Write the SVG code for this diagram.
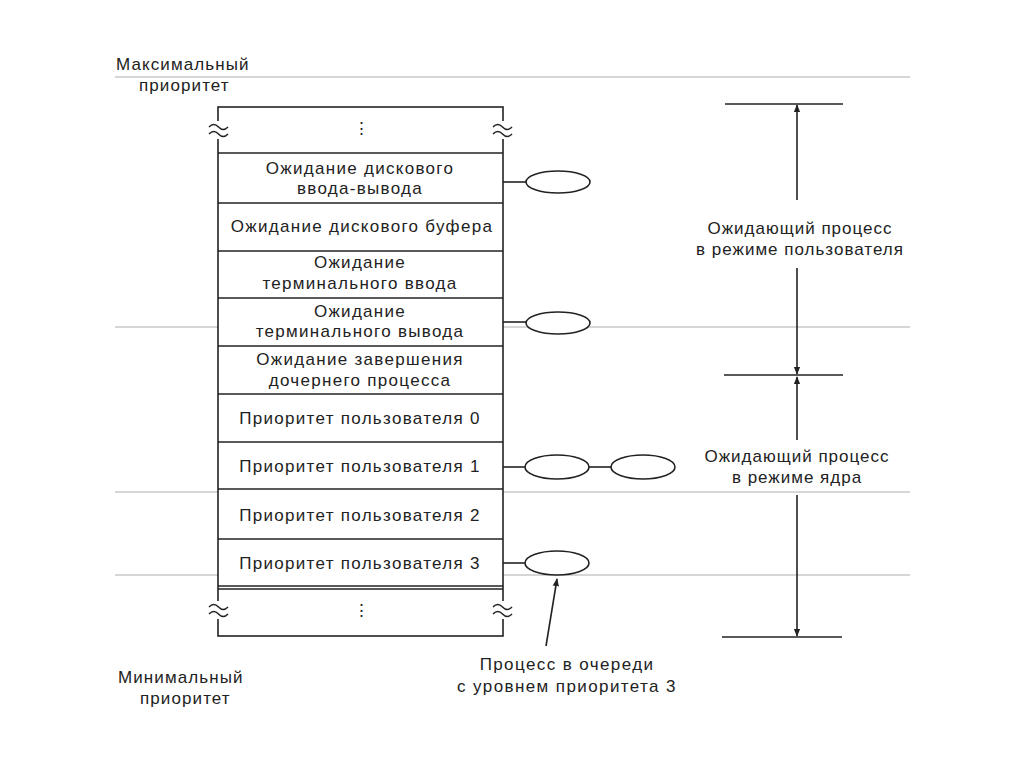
<svg xmlns="http://www.w3.org/2000/svg" width="1024" height="767" viewBox="0 0 1024 767">
<style>
text{font-family:"Liberation Sans",Arial,sans-serif;font-size:17px;fill:#222;text-anchor:middle;letter-spacing:1.3px}
.lbl{text-anchor:start;letter-spacing:1.1px}
.side{letter-spacing:1px}
.q{letter-spacing:1.4px}
.guide{stroke:#c8c8c8;stroke-width:1.3;fill:none}
.ln{stroke:#222;stroke-width:1.6;fill:none}
.row{fill:#fff;stroke:#222;stroke-width:1.6}
.ell{fill:#fff;stroke:#222;stroke-width:1.6}
</style>
<defs>
<marker id="ah" viewBox="0 0 10 10" refX="9" refY="5" markerWidth="8" markerHeight="8" orient="auto-start-reverse" markerUnits="userSpaceOnUse">
<path d="M0,1 L10,5 L0,9 z" fill="#222"/>
</marker>
</defs>
<rect width="1024" height="767" fill="#fff"/>
<g id="guides">
<line class="guide" x1="115" y1="77" x2="910" y2="77"/>
<line class="guide" x1="115" y1="327" x2="910" y2="327"/>
<line class="guide" x1="115" y1="492" x2="910" y2="492"/>
<line class="guide" x1="115" y1="575" x2="910" y2="575"/>
</g>
<g id="label-max">
<text class="lbl" x="116" y="70">Максимальный</text>
<text class="lbl" x="139" y="91">приоритет</text>
</g>
<g id="label-min">
<text class="lbl" x="118" y="683">Минимальный</text>
<text class="lbl" x="140" y="704">приоритет</text>
</g>
<g id="table">
<rect class="row" x="218" y="107" width="285" height="529"/>
<g id="row-top"><text x="362" y="134">⋮</text></g>
<g id="row-disk-io"><line class="ln" x1="218" y1="153" x2="503" y2="153"/><text x="360" y="174">Ожидание дискового</text><text x="360" y="194">ввода-вывода</text></g>
<g id="row-disk-buf"><line class="ln" x1="218" y1="203" x2="503" y2="203"/><text x="362" y="232">Ожидание дискового буфера</text></g>
<g id="row-term-in"><line class="ln" x1="218" y1="251" x2="503" y2="251"/><text x="360" y="268">Ожидание</text><text x="360" y="289">терминального ввода</text></g>
<g id="row-term-out"><line class="ln" x1="218" y1="298" x2="503" y2="298"/><text x="360" y="317">Ожидание</text><text x="360" y="337">терминального вывода</text></g>
<g id="row-child"><line class="ln" x1="218" y1="346" x2="503" y2="346"/><text x="360" y="365">Ожидание завершения</text><text x="360" y="386">дочернего процесса</text></g>
<g id="row-u0"><line class="ln" x1="218" y1="394" x2="503" y2="394"/><text x="360" y="424">Приоритет пользователя 0</text></g>
<g id="row-u1"><line class="ln" x1="218" y1="442" x2="503" y2="442"/><text x="360" y="472">Приоритет пользователя 1</text></g>
<g id="row-u2"><line class="ln" x1="218" y1="489" x2="503" y2="489"/><text x="360" y="521">Приоритет пользователя 2</text></g>
<g id="row-u3"><line class="ln" x1="218" y1="539" x2="503" y2="539"/><text x="360" y="569">Приоритет пользователя 3</text></g>
<g id="row-bottom"><line class="ln" x1="218" y1="586" x2="503" y2="586"/><line class="ln" x1="218" y1="589" x2="503" y2="589"/><text x="362" y="616">⋮</text></g>
<g id="breaks" fill="#fff" stroke="#222" stroke-width="1.5">
<rect x="209" y="121" width="19" height="18" stroke="none"/>
<rect x="493" y="121" width="19" height="18" stroke="none"/>
<rect x="209" y="601" width="19" height="18" stroke="none"/>
<rect x="493" y="601" width="19" height="18" stroke="none"/>
<path fill="none" d="M209,127 q4.75,-5 9.5,0 t9.5,0 M209,134 q4.75,-5 9.5,0 t9.5,0"/>
<path fill="none" d="M493,127 q4.75,-5 9.5,0 t9.5,0 M493,134 q4.75,-5 9.5,0 t9.5,0"/>
<path fill="none" d="M209,607 q4.75,-5 9.5,0 t9.5,0 M209,614 q4.75,-5 9.5,0 t9.5,0"/>
<path fill="none" d="M493,607 q4.75,-5 9.5,0 t9.5,0 M493,614 q4.75,-5 9.5,0 t9.5,0"/>
</g>
</g>
<g id="connectors">
<line class="ln" x1="503" y1="182" x2="526" y2="182"/>
<line class="ln" x1="503" y1="322" x2="526" y2="322"/>
<line class="ln" x1="503" y1="467" x2="525" y2="467"/>
<line class="ln" x1="589" y1="467" x2="611" y2="467"/>
<line class="ln" x1="503" y1="563" x2="525" y2="563"/>
<line class="ln" x1="546" y1="646" x2="557" y2="579" marker-end="url(#ah)"/>
<line class="ln" x1="797" y1="200" x2="797" y2="105" marker-end="url(#ah)"/>
<line class="ln" x1="797" y1="268" x2="797" y2="374" marker-end="url(#ah)"/>
<line class="ln" x1="797" y1="440" x2="797" y2="377" marker-end="url(#ah)"/>
<line class="ln" x1="797" y1="495" x2="797" y2="636" marker-end="url(#ah)"/>
<line class="ln" x1="725" y1="104" x2="843" y2="104"/>
<line class="ln" x1="724" y1="375" x2="843" y2="375"/>
<line class="ln" x1="722" y1="637" x2="842" y2="637"/>
</g>
<g id="queue-disk-io"><ellipse class="ell" cx="558" cy="182" rx="32" ry="11"/></g>
<g id="queue-term-out"><ellipse class="ell" cx="558" cy="323" rx="32" ry="11"/></g>
<g id="queue-u1"><ellipse class="ell" cx="557" cy="467" rx="32" ry="12"/><ellipse class="ell" cx="643" cy="467" rx="32" ry="12"/></g>
<g id="queue-u3"><ellipse class="ell" cx="557" cy="563" rx="32" ry="12"/></g>
<g id="label-user">
<text class="side" x="800" y="234">Ожидающий процесс</text>
<text class="side" x="800" y="255">в режиме пользователя</text>
</g>
<g id="label-kernel">
<text class="side" x="797" y="462">Ожидающий процесс</text>
<text class="side" x="797" y="483">в режиме ядра</text>
</g>
<g id="label-queue">
<text class="q" x="567" y="670">Процесс в очереди</text>
<text class="q" x="567" y="692">с уровнем приоритета 3</text>
</g>
</svg>
